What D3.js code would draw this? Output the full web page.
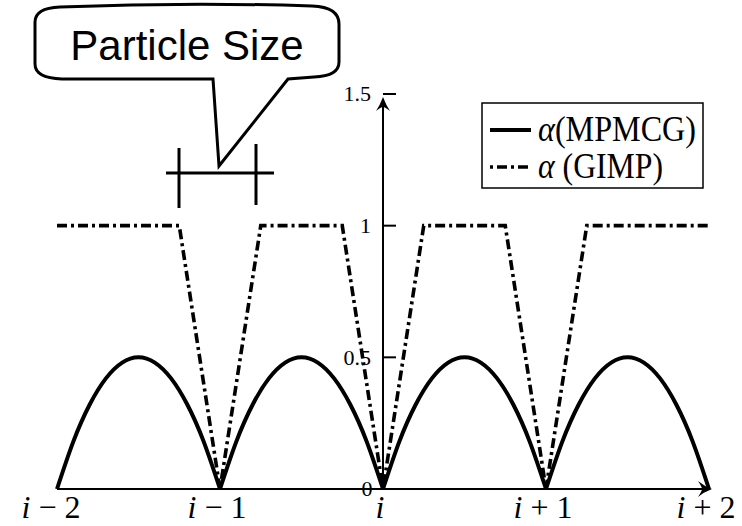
<!DOCTYPE html>
<html>
<head>
<meta charset="utf-8">
<script src="https://cdn.jsdelivr.net/npm/d3@7"></script>
<style>
  html, body { margin: 0; padding: 0; background: #fff; }
  svg { display: block; }
  .serif { font-family: "Liberation Serif", "Times New Roman", "DejaVu Serif", serif; }
  .sans { font-family: "Liberation Sans", Arial, sans-serif; }
</style>
</head>
<body>
<svg id="chart" width="742" height="526"></svg>
<script>
// Positions along the lattice (cell index offset from i)
const xTicks = [-2, -1, 0, 1, 2];
const xTickLabels = ["i − 2", "i − 1", "i", "i + 1", "i + 2"];
const yTicks = [0.5, 1, 1.5];
const yTickLabels = ["0.5", "1", "1.5"];

// α for MPMCG: arches between neighbouring nodes
const mpmcgX = [-2, -1.9, -1.8, -1.7, -1.6, -1.5, -1.4, -1.3, -1.2, -1.1, -1,
                -0.9, -0.8, -0.7, -0.6, -0.5, -0.4, -0.3, -0.2, -0.1, 0,
                0.1, 0.2, 0.3, 0.4, 0.5, 0.6, 0.7, 0.8, 0.9, 1,
                1.1, 1.2, 1.3, 1.4, 1.5, 1.6, 1.7, 1.8, 1.9, 2];
const mpmcgY = [0, 0.18, 0.32, 0.42, 0.48, 0.5, 0.48, 0.42, 0.32, 0.18, 0,
                0.18, 0.32, 0.42, 0.48, 0.5, 0.48, 0.42, 0.32, 0.18, 0,
                0.18, 0.32, 0.42, 0.48, 0.5, 0.48, 0.42, 0.32, 0.18, 0,
                0.18, 0.32, 0.42, 0.48, 0.5, 0.48, 0.42, 0.32, 0.18, 0];

// α for GIMP: 1 away from nodes, dropping to 0 within a particle half-width
const gimpX = [-2, -1.25, -1, -0.75, -0.25, 0, 0.25, 0.75, 1, 1.25, 2];
const gimpY = [1, 1, 0, 1, 1, 0, 1, 1, 0, 1, 1];

const legendLabels = ["(MPMCG)", " (GIMP)"];
const calloutText = "Particle Size";

const svg = d3.select("#chart");

const x = d3.scaleLinear().domain([-2, 2]).range([57, 709]);
const y = d3.scaleLinear().domain([0, 1.5]).range([489, 94]);

// ---- axes ----
const axes = svg.append("g").attr("stroke", "#000").attr("fill", "none");
axes.append("line")
  .attr("x1", x(-2)).attr("x2", 704).attr("y1", y(0)).attr("y2", y(0))
  .attr("stroke-width", 2);
axes.append("line")
  .attr("x1", x(0)).attr("x2", x(0)).attr("y1", y(0)).attr("y2", y(1.5) + 8)
  .attr("stroke-width", 2);

// arrow heads
const ax = 712, ay = y(0);
svg.append("path")
  .attr("d", `M${ax},${ay} Q${ax - 8},${ay - 3} ${ax - 14},${ay - 8} Q${ax - 10},${ay - 2} ${ax - 10},${ay}` +
             ` Q${ax - 10},${ay + 2} ${ax - 14},${ay + 8} Q${ax - 8},${ay + 3} ${ax},${ay} Z`)
  .attr("fill", "#000");
const bx = x(0), by = 97;
svg.append("path")
  .attr("d", `M${bx},${by} Q${bx - 3},${by + 8} ${bx - 7},${by + 14} Q${bx - 2},${by + 10} ${bx},${by + 10}` +
             ` Q${bx + 2},${by + 10} ${bx + 7},${by + 14} Q${bx + 3},${by + 8} ${bx},${by} Z`)
  .attr("fill", "#000");

// y ticks (to the right) and labels (to the left)
axes.selectAll("line.ytick").data(yTicks).join("line")
  .attr("class", "ytick")
  .attr("x1", x(0)).attr("x2", x(0) + 13)
  .attr("y1", d => y(d)).attr("y2", d => y(d))
  .attr("stroke-width", 2);

svg.append("g").selectAll("text").data(yTicks).join("text")
  .attr("class", "serif")
  .attr("x", x(0) - 12)
  .attr("y", d => y(d))
  .attr("dy", "0.33em")
  .attr("text-anchor", "end")
  .attr("font-size", 22)
  .text((d, i) => yTickLabels[i]);

svg.append("text")
  .attr("class", "serif")
  .attr("x", x(0) - 16).attr("y", y(0)).attr("dy", "0.33em")
  .attr("text-anchor", "middle")
  .attr("font-size", 22)
  .text("0");

// x tick labels
const xl = svg.append("g").selectAll("text").data(xTicks).join("text")
  .attr("class", "serif")
  .attr("x", (d, i) => x(d) - (i === 0 ? 6 : 3))
  .attr("y", 518)
  .attr("text-anchor", "middle")
  .attr("font-size", 32);
xl.each(function(d, i) {
  const t = d3.select(this);
  const lab = xTickLabels[i];
  t.append("tspan").attr("font-style", "italic").text(lab.charAt(0));
  if (lab.length > 1) t.append("tspan").text(lab.slice(1));
});

// ---- GIMP curve ----
const gimpData = gimpX.map((v, i) => [v, gimpY[i]]);
svg.append("path")
  .datum(gimpData)
  .attr("d", d3.line().x(d => x(d[0])).y(d => y(d[1])))
  .attr("fill", "none")
  .attr("stroke", "#000")
  .attr("stroke-width", 3.6)
  .attr("stroke-dasharray", "10,4,3,4");

// ---- MPMCG curve: one smooth arch per cell ----
const arches = [];
let cur = [];
mpmcgX.forEach((v, i) => {
  cur.push([v, mpmcgY[i]]);
  if (mpmcgY[i] === 0 && cur.length > 1) { arches.push(cur); cur = [[v, 0]]; }
});
svg.append("g").selectAll("path").data(arches).join("path")
  .attr("d", d3.line().x(d => x(d[0])).y(d => y(d[1])).curve(d3.curveNatural))
  .attr("fill", "none")
  .attr("stroke", "#000")
  .attr("stroke-width", 4)
  .attr("stroke-linejoin", "miter");

// ---- legend ----
const lg = svg.append("g");
lg.append("rect")
  .attr("x", 482).attr("y", 103).attr("width", 221).attr("height", 85)
  .attr("fill", "#fff").attr("stroke", "#000").attr("stroke-width", 1.5);
lg.append("line").attr("x1", 490).attr("x2", 531).attr("y1", 130).attr("y2", 130)
  .attr("stroke", "#000").attr("stroke-width", 4);
lg.append("line").attr("x1", 490).attr("x2", 531).attr("y1", 167).attr("y2", 167)
  .attr("stroke", "#000").attr("stroke-width", 3.6).attr("stroke-dasharray", "3,4,10,4");
const legendWidths = [158, 125];
legendLabels.forEach((lab, i) => {
  const t = lg.append("text")
    .attr("class", "serif")
    .attr("x", 538).attr("y", 141 + i * 37)
    .attr("font-size", 35)
    .attr("textLength", legendWidths[i]).attr("lengthAdjust", "spacingAndGlyphs");
  t.append("tspan").attr("font-style", "italic").text("α");
  t.append("tspan").text(lab);
});

// ---- particle size callout ----
const co = svg.append("g").attr("fill", "none").attr("stroke", "#000").attr("stroke-width", 3);
co.append("path")
  .attr("d", "M35,22 Q35,8 60,7 Q188,2 312,6 Q339,7 339,24 L339,62 Q339,76 314,77 L288,79 L219,166 L213,79 L62,79 Q35,78 35,64 Z")
  .attr("fill", "#fff")
  .attr("stroke-linejoin", "miter");
svg.append("text")
  .attr("class", "sans")
  .attr("x", 187).attr("y", 60)
  .attr("text-anchor", "middle")
  .attr("font-size", 42)
  .text(calloutText);
co.append("line").attr("x1", 166).attr("x2", 274).attr("y1", 173).attr("y2", 173);
co.append("line").attr("x1", 179).attr("x2", 179).attr("y1", 148).attr("y2", 208);
co.append("line").attr("x1", 256).attr("x2", 256).attr("y1", 144).attr("y2", 205);
</script>
</body>
</html>
